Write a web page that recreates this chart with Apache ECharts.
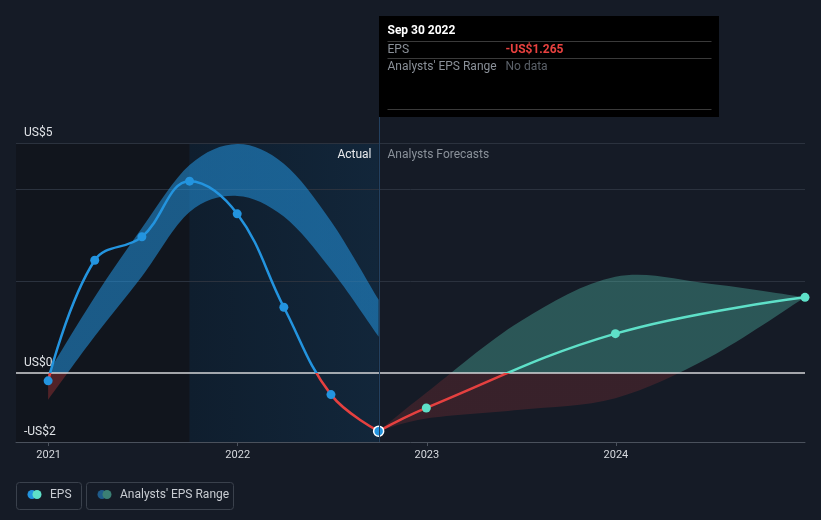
<!DOCTYPE html>
<html><head><meta charset="utf-8">
<script src="https://cdn.jsdelivr.net/npm/echarts@6/dist/echarts.min.js"></script>
<style>html,body{margin:0;padding:0;background:#151b26;}#c{width:821px;height:520px;}</style>
</head><body><div id="c"></div>
<script>
// ---- data ----
const actualDates = ['2020-12-31','2021-03-31','2021-06-30','2021-09-30','2021-12-31','2022-03-31','2022-06-30','2022-09-30'];
const actualEps = [-0.17, 2.45, 2.96, 4.17, 3.46, 1.43, -0.47, -1.265];
const pastRangeUpper = [0.0, 1.65, 3.15, 4.52, 4.98, 4.55, 3.3, 1.59];
const pastRangeLower = [-0.58, 0.8, 2.1, 3.5, 3.85, 3.4, 2.25, 0.79];
const forecastDates = ['2022-09-30','2022-12-31','2023-12-31','2024-12-31'];
const forecastEps = [-1.265, -0.76, 0.855, 1.645];
const rangeDates = ['2022-09-30','2022-12-31','2023-06-30','2023-12-31','2024-06-30','2024-12-31'];
const rangeUpper = [-1.265, -0.43, 1.12, 2.09, 1.94, 1.645];
const rangeLower = [-1.265, -0.99, -0.80, -0.55, 0.34, 1.645];
const yearTicks = ['2021-01-01','2022-01-01','2023-01-01','2024-01-01'];
const yTickValues = [-1.5, 0, 5];
const yTickLabels = ['-US$2','US$0','US$5'];
const gridValues = [5, 4, 2];
const xMin = '2020-10-30', xMax = '2024-12-31';
const pastShadeStart = '2021-09-30', tipDate = '2022-09-30';

const BLUE = '#2394df', TEAL = '#5ee0c8', RED = '#e5403f';
const FONT = 'Roboto, "Noto Sans", sans-serif';
const H = 520;

const ts = s => { const [y, m, d] = s.split('-').map(Number); return Date.UTC(y, m - 1, d); };
const zip = (d, v) => d.map((x, i) => [ts(x), v[i]]);

const chart = echarts.init(document.getElementById('c'));
const grid = { left: 16, right: 16, top: 143, bottom: 78, containLabel: false };
const axes = {
  grid,
  xAxis: {
    type: 'value', min: ts(xMin), max: ts(xMax),
    splitLine: { show: false },
    axisLine: { onZero: false, lineStyle: { color: '#4a515c', width: 1 } },
    axisTick: { show: true, length: 4, lineStyle: { color: '#4a515c' }, customValues: yearTicks.map(ts) },
    axisLabel: { customValues: yearTicks.map(ts), color: '#d6d9de', fontSize: 11, margin: 8, fontFamily: FONT,
      formatter: v => String(new Date(v).getUTCFullYear()) }
  },
  yAxis: {
    type: 'value', min: -1.5, max: 5, interval: 0.5,
    splitLine: { show: false }, axisLine: { show: false }, axisTick: { show: false },
    axisLabel: { inside: true, margin: 8, customValues: yTickValues, color: '#e0e3e7', fontSize: 12,
      verticalAlign: 'bottom', padding: [0, 0, 4, 0], fontFamily: FONT,
      formatter: v => { const i = yTickValues.indexOf(v); return i >= 0 ? yTickLabels[i] : ''; } }
  }
};
chart.setOption(Object.assign({ backgroundColor: '#151b26', animation: false, series: [] }, axes));

// pixel of zero, used to split colours above / below US$0
const y0 = chart.convertToPixel({ yAxisIndex: 0 }, 0);
const split = (above, below) => {
  const o = y0 / H;
  return new echarts.graphic.LinearGradient(0, 0, 0, H, [
    { offset: 0, color: above }, { offset: o, color: above },
    { offset: o, color: below }, { offset: 1, color: below }], true);
};

// smooth (Catmull-Rom) path through already-projected points
const f = p => p[0].toFixed(2) + ' ' + p[1].toFixed(2);
const curve = pts => {
  let s = '';
  for (let i = 0; i < pts.length - 1; i++) {
    const p0 = pts[i - 1] || pts[i], p1 = pts[i], p2 = pts[i + 1], p3 = pts[i + 2] || pts[i + 1];
    const c1 = [p1[0] + (p2[0] - p0[0]) / 6, p1[1] + (p2[1] - p0[1]) / 6];
    const c2 = [p2[0] - (p3[0] - p1[0]) / 6, p2[1] - (p3[1] - p1[1]) / 6];
    s += ' C' + f(c1) + ' ' + f(c2) + ' ' + f(p2);
  }
  return s;
};
const bandSeries = (dates, upper, lower, fill) => ({
  type: 'custom', z: 2, silent: true, clip: true,
  data: dates.map((d, i) => [ts(d), lower[i], upper[i]]),
  encode: { x: 0, y: [1, 2] },
  renderItem: (params, api) => {
    if (params.dataIndex !== 0) return null;
    const up = dates.map((d, i) => api.coord([ts(d), upper[i]]));
    const lo = dates.map((d, i) => api.coord([ts(d), lower[i]])).reverse();
    const pathData = 'M' + f(up[0]) + curve(up) + ' L' + f(lo[0]) + curve(lo) + ' Z';
    return { type: 'path', shape: { pathData }, style: { fill, stroke: null } };
  }
});

const option = {
  backgroundColor: '#151b26',
  animation: false,
  textStyle: { fontFamily: FONT },
  series: [
    // background shading
    { type: 'line', data: [], z: 0, silent: true,
      markArea: { silent: true, z: 0, itemStyle: { opacity: 1 }, data: [
        [{ xAxis: ts(xMin), itemStyle: { color: '#11151d' } }, { xAxis: ts(pastShadeStart) }],
        [{ xAxis: ts(pastShadeStart), itemStyle: { color: new echarts.graphic.LinearGradient(0, 0, 1, 0, [
          { offset: 0, color: '#0f1e2e' }, { offset: 1, color: '#12263a' }]) } }, { xAxis: ts(tipDate) }]
      ] } },
    // grid lines
    { type: 'line', data: [], z: 1, silent: true,
      markLine: { silent: true, z: 1, symbol: 'none', label: { show: false },
        lineStyle: { color: '#2b323e', type: 'solid', width: 1 },
        data: gridValues.map(v => ({ yAxis: v })) } },
    // zero line
    { type: 'line', data: [], z: 3, silent: true,
      markLine: { silent: true, z: 3, symbol: 'none', label: { show: false },
        lineStyle: { color: '#d4d6d9', type: 'solid', width: 1.5 },
        data: [{ yAxis: 0 }] } },
    // range bands
    bandSeries(actualDates, pastRangeUpper, pastRangeLower, split('rgba(35,148,223,0.55)', 'rgba(229,64,63,0.3)')),
    bandSeries(rangeDates, rangeUpper, rangeLower, split('rgba(94,224,200,0.3)', 'rgba(229,64,63,0.17)')),
    // actual EPS line
    { type: 'line', name: 'EPS', data: zip(actualDates, actualEps), smooth: 0.4, showSymbol: false, symbol: 'none',
      lineStyle: { width: 2.5, color: split(BLUE, RED) }, z: 4 },
    // forecast EPS line
    { type: 'line', name: 'EPS forecast', data: zip(forecastDates, forecastEps), smooth: 0.4, showSymbol: false, symbol: 'none',
      lineStyle: { width: 2.5, color: split(TEAL, RED) }, z: 4 },
    // actual markers
    { type: 'scatter', data: zip(actualDates, actualEps).map((p, i, a) => i === a.length - 1
        ? { value: p, symbolSize: 10, itemStyle: { color: BLUE, borderColor: '#ffffff', borderWidth: 1.5, opacity: 1 } }
        : { value: p }),
      symbolSize: 9, itemStyle: { color: BLUE, opacity: 1 }, z: 6 },
    // forecast markers
    { type: 'scatter', data: zip(forecastDates, forecastEps).slice(1), symbolSize: 9,
      itemStyle: { color: TEAL, opacity: 1 }, z: 5 }
  ]
};
chart.setOption(Object.assign(option, axes));

const px = Math.round(chart.convertToPixel({ xAxisIndex: 0 }, ts(tipDate))) + 0.5;
const gridBottom = Math.round(chart.convertToPixel({ yAxisIndex: 0 }, -1.5));
const topY = chart.convertToPixel({ yAxisIndex: 0 }, 5);
const txt = (x, y, text, fill, extra) => Object.assign({ type: 'text', x, y, z: 20,
  style: Object.assign({ text, fill, font: '12px ' + FONT, verticalAlign: 'middle', align: 'left' }, extra || {}) });
const hline = (x1, x2, y, c) => ({ type: 'line', z: 20, shape: { x1, y1: y, x2, y2: y }, style: { stroke: c, lineWidth: 1 } });

chart.setOption({
  graphic: [
    { type: 'line', z: 15, shape: { x1: px, y1: 117, x2: px, y2: gridBottom }, style: { stroke: '#23405f', lineWidth: 1 } },
    { type: 'rect', z: 19, shape: { x: px - 0.5, y: 16, width: 340, height: 101 }, style: { fill: '#000000' } },
    txt(px + 8, 31, 'Sep 30 2022', '#ffffff', { font: 'bold 12px ' + FONT }),
    hline(px + 8, px + 332, 41.5, '#3a3a3a'),
    txt(px + 8, 49.5, 'EPS', '#8a9098'),
    txt(px + 126, 49.5, '-US$1.265', '#e8413f', { font: 'bold 12px ' + FONT }),
    hline(px + 8, px + 332, 58.5, '#3a3a3a'),
    txt(px + 8, 66.5, "Analysts' EPS Range", '#8a9098'),
    txt(px + 126, 66.5, 'No data', '#5b6169'),
    hline(px + 8, px + 332, 109.5, '#3a3a3a'),
    txt(px - 8, topY + 11.5, 'Actual', '#e8eaed', { align: 'right' }),
    txt(px + 8, topY + 11.5, 'Analysts Forecasts', '#8a919a'),
    // legend
    { type: 'rect', z: 20, shape: { x: 16.5, y: 482.5, width: 65, height: 27, r: 3 }, style: { fill: 'none', stroke: '#3a414c', lineWidth: 1 } },
    { type: 'circle', z: 20, shape: { cx: 32, cy: 494.5, r: 4.5 }, style: { fill: BLUE } },
    { type: 'circle', z: 21, shape: { cx: 37, cy: 494.5, r: 4.5 }, style: { fill: TEAL } },
    txt(50, 495, 'EPS', '#c8ccd2'),
    { type: 'rect', z: 20, shape: { x: 86.5, y: 482.5, width: 147, height: 27, r: 3 }, style: { fill: 'none', stroke: '#3a414c', lineWidth: 1 } },
    { type: 'circle', z: 20, shape: { cx: 102, cy: 494.5, r: 4.5 }, style: { fill: '#1f5b8a' } },
    { type: 'circle', z: 21, shape: { cx: 107, cy: 494.5, r: 4.5 }, style: { fill: '#3b7f74' } },
    txt(120, 495, "Analysts' EPS Range", '#c8ccd2')
  ]
});
</script>
</body></html>
